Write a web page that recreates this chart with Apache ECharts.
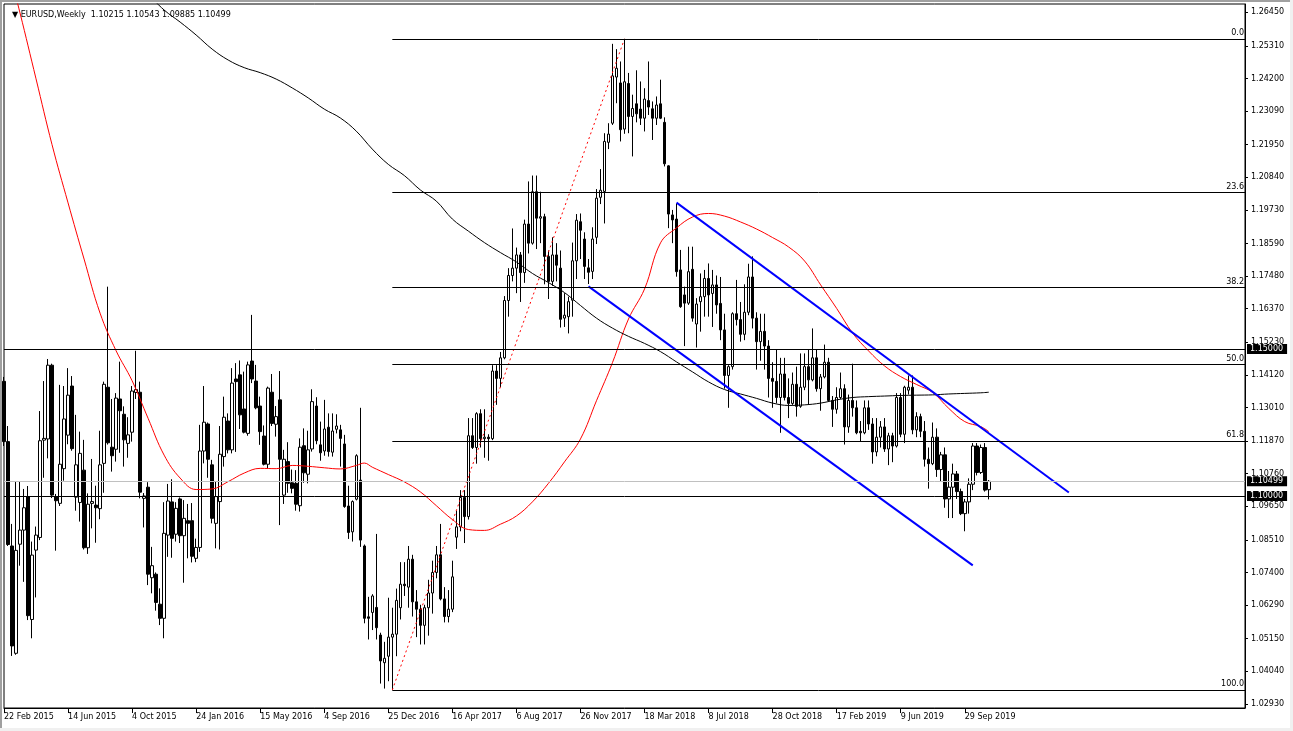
<!DOCTYPE html>
<html>
<head>
<meta charset="utf-8">
<script src="https://cdn.jsdelivr.net/npm/echarts@6/dist/echarts.min.js"></script>
<style>
  html, body { margin: 0; padding: 0; background: #f0f0f0; }
  #frame { position: absolute; left: 0; top: 0; width: 1290px; height: 728px; background: #fff;
           border-left: 2px solid #a0a0a0; border-top: 2px solid #a0a0a0; box-sizing: border-box; }
  #chart { position: absolute; left: 0; top: 0; width: 1293px; height: 731px; }
</style>
</head>
<body>
<div id="frame"></div>
<div id="chart"></div>
<script>
// ---- Weekly candles [open, high, low, close], first bar = week of 22 Feb 2015 ----
const candles2015 = [
  [1.1390,1.1405,1.1170,1.1185],[1.1185,1.1238,1.0830,1.0835],[1.0830,1.0905,1.0456,1.0490],[1.0465,1.1050,1.0460,1.0815],
  [1.0836,1.1051,1.0763,1.0884],[1.0884,1.1024,1.0708,1.0960],[1.0998,1.1034,1.0578,1.0593],[1.0580,1.0845,1.0516,1.0799],
  [1.0816,1.0896,1.0655,1.0867],[1.0859,1.1289,1.0850,1.1188],[1.1190,1.1391,1.1062,1.1196],[1.1194,1.1466,1.1128,1.1445],
  [1.1445,1.1450,1.0993,1.1003],[1.0998,1.1007,1.0814,1.0984],[1.0975,1.1378,1.0966,1.1108],[1.1093,1.1374,1.1052,1.1262],
  [1.1207,1.1435,1.1176,1.1343],[1.1374,1.1408,1.1154,1.1161],[1.0996,1.1276,1.0950,1.1106],[1.0978,1.1219,1.0913,1.1145],
  [1.1088,1.1191,1.0818,1.0824],[1.0824,1.1009,1.0803,1.0972],[1.0975,1.1126,1.0890,1.0981],[1.0969,1.1035,1.0841,1.0960],
  [1.0957,1.1222,1.0921,1.1106],[1.1111,1.1389,1.1011,1.1380],[1.1370,1.1712,1.1175,1.1181],[1.1166,1.1330,1.1083,1.1137],
  [1.1159,1.1350,1.1117,1.1333],[1.1330,1.1457,1.1147,1.1290],[1.1278,1.1305,1.1100,1.1191],[1.1179,1.1268,1.1130,1.1208],
  [1.1217,1.1374,1.1185,1.1357],[1.1352,1.1494,1.1330,1.1362],[1.1353,1.1389,1.0992,1.1013],[1.0992,1.1010,1.0893,1.1000],
  [1.1030,1.1047,1.0697,1.0734],[1.0722,1.0827,1.0669,1.0763],[1.0734,1.0740,1.0610,1.0638],[1.0632,1.0686,1.0561,1.0584],
  [1.0584,1.0979,1.0516,1.0873],[1.0867,1.1041,1.0793,1.0983],[1.0980,1.1057,1.0790,1.0856],[1.0870,1.0979,1.0845,1.0958],
  [1.0990,1.0995,1.0840,1.0865]
];
const candles2016 = [
  [1.0865,1.0986,1.0705,1.0924],[1.0916,1.0973,1.0788,1.0907],[1.0916,1.0976,1.0774,1.0795],[1.0788,1.0855,1.0775,1.0825],
  [1.0825,1.1242,1.0810,1.1153],[1.1153,1.1374,1.1111,1.1251],[1.1245,1.1250,1.1062,1.1125],[1.1106,1.1123,1.0907,1.0924],
  [1.0907,1.1049,1.0822,1.0998],[1.0981,1.1238,1.0818,1.1142],[1.1134,1.1338,1.1100,1.1268],[1.1255,1.1281,1.1145,1.1157],
  [1.1157,1.1435,1.1145,1.1384],[1.1398,1.1452,1.1150,1.1389],[1.1412,1.1461,1.1228,1.1276],[1.1296,1.1423,1.1213,1.1217],
  [1.1213,1.1457,1.1205,1.1446],[1.1459,1.1616,1.1384,1.1398],[1.1391,1.1446,1.1295,1.1300],[1.1306,1.1338,1.1174,1.1219],
  [1.1204,1.1240,1.1104,1.1108],[1.1108,1.1372,1.1094,1.1367],[1.1353,1.1415,1.1238,1.1247],[1.1244,1.1306,1.1202,1.1270],
  [1.1327,1.1425,1.0901,1.1125],[1.1003,1.1157,1.0973,1.1125],[1.1117,1.1183,1.1011,1.1043],[1.1045,1.1090,1.1009,1.1026],
  [1.1043,1.1088,1.0950,1.0972],[1.0967,1.1196,1.0947,1.1166],[1.1171,1.1230,1.1045,1.1079],[1.1074,1.1222,1.1043,1.1157],
  [1.1160,1.1363,1.1151,1.1321],[1.1306,1.1336,1.1176,1.1188],[1.1174,1.1253,1.1120,1.1147],[1.1153,1.1327,1.1137,1.1228],
  [1.1234,1.1281,1.1134,1.1151],[1.1149,1.1281,1.1134,1.1221],[1.1227,1.1278,1.1213,1.1238],[1.1225,1.1242,1.1100,1.1196],
  [1.1177,1.1208,1.0960,1.0964],[1.0966,1.1035,1.0854,1.0876],[1.0878,1.0985,1.0845,1.0981],[1.0989,1.1142,1.0985,1.1137],
  [1.1054,1.1300,1.0827,1.0850],[1.0830,1.0835,1.0567,1.0584],[1.0589,1.0657,1.0512,1.0584],[1.0604,1.0666,1.0544,1.0660],
  [1.0621,1.0871,1.0512,1.0552],[1.0527,1.0535,1.0362,1.0439],[1.0433,1.0504,1.0345,1.0448],[1.0455,1.0654,1.0370,1.0520]
];
const candles2017 = [
  [1.0520,1.0620,1.0340,1.0530],[1.0530,1.0685,1.0455,1.0645],[1.0620,1.0775,1.0580,1.0700],[1.0700,1.0775,1.0660,1.0695],
  [1.0690,1.0830,1.0620,1.0785],[1.0785,1.0800,1.0590,1.0640],[1.0640,1.0680,1.0520,1.0615],[1.0615,1.0630,1.0495,1.0560],
  [1.0560,1.0630,1.0495,1.0620],[1.0620,1.0715,1.0525,1.0670],[1.0670,1.0780,1.0600,1.0740],[1.0740,1.0830,1.0720,1.0800],
  [1.0800,1.0905,1.0645,1.0650],[1.0650,1.0690,1.0570,1.0590],[1.0590,1.0680,1.0570,1.0615],[1.0615,1.0780,1.0605,1.0725],
  [1.0860,1.0950,1.0820,1.0895],[1.0895,1.1020,1.0880,1.0995],[1.0995,1.1020,1.0840,1.0930],[1.0930,1.1265,1.0920,1.1205],
  [1.1205,1.1265,1.1160,1.1165],[1.1165,1.1285,1.1110,1.1280],[1.1280,1.1295,1.1165,1.1195],[1.1195,1.1295,1.1130,1.1200],
  [1.1200,1.1210,1.1120,1.1195],[1.1195,1.1445,1.1190,1.1425],[1.1425,1.1445,1.1310,1.1400],[1.1400,1.1490,1.1370,1.1470],
  [1.1470,1.1680,1.1465,1.1665],[1.1665,1.1775,1.1610,1.1750],[1.1750,1.1910,1.1730,1.1775],[1.1775,1.1845,1.1690,1.1820],
  [1.1820,1.1830,1.1660,1.1760],[1.1760,1.1940,1.1725,1.1925],[1.1925,1.2070,1.1825,1.1860],[1.1860,1.2090,1.1855,1.2035],
  [1.2035,1.2090,1.1840,1.1945],[1.1945,1.2035,1.1860,1.1950],[1.1950,1.1960,1.1720,1.1815],[1.1815,1.1835,1.1670,1.1730],
  [1.1730,1.1880,1.1715,1.1820],[1.1820,1.1860,1.1730,1.1785],[1.1775,1.1835,1.1573,1.1601],[1.1605,1.1690,1.1575,1.1615],
  [1.1610,1.1678,1.1553,1.1661],[1.1666,1.1862,1.1610,1.1800],[1.1800,1.1959,1.1738,1.1938],[1.1933,1.1961,1.1806,1.1904],
  [1.1874,1.1897,1.1738,1.1781],[1.1776,1.1806,1.1721,1.1761],[1.1764,1.1914,1.1738,1.1874],[1.1880,1.2044,1.1857,1.2013]
];
const candles2018 = [
  [1.2016,1.2112,1.1993,1.2040],[1.2036,1.2234,1.1927,1.2206],[1.2203,1.2268,1.2180,1.2231],[1.2268,1.2538,1.2262,1.2429],
  [1.2425,1.2520,1.2336,1.2455],[1.2405,1.2478,1.2206,1.2246],[1.2248,1.2555,1.2232,1.2409],[1.2403,1.2439,1.2234,1.2291],
  [1.2291,1.2365,1.2155,1.2318],[1.2334,1.2448,1.2271,1.2300],[1.2316,1.2410,1.2262,1.2285],[1.2285,1.2387,1.2240,1.2350],
  [1.2345,1.2478,1.2296,1.2323],[1.2317,1.2342,1.2211,1.2285],[1.2285,1.2359,1.2262,1.2330],[1.2334,1.2416,1.2282,1.2285],
  [1.2271,1.2288,1.2121,1.2130],[1.2123,1.2125,1.1911,1.1959],[1.1956,1.1973,1.1860,1.1939],[1.1942,1.1995,1.1746,1.1763],
  [1.1769,1.1837,1.1640,1.1644],[1.1684,1.1712,1.1510,1.1656],[1.1656,1.1848,1.1650,1.1763],[1.1771,1.1848,1.1593,1.1605],
  [1.1585,1.1673,1.1505,1.1653],[1.1661,1.1757,1.1559,1.1678],[1.1678,1.1769,1.1610,1.1740],[1.1740,1.1791,1.1610,1.1684],
  [1.1689,1.1769,1.1575,1.1718],[1.1718,1.1750,1.1620,1.1650],[1.1655,1.1745,1.1530,1.1565],[1.1565,1.1620,1.1365,1.1410],
  [1.1410,1.1445,1.1300,1.1440],[1.1440,1.1625,1.1430,1.1620],[1.1620,1.1735,1.1580,1.1600],[1.1600,1.1660,1.1525,1.1550],
  [1.1550,1.1720,1.1530,1.1625],[1.1625,1.1790,1.1615,1.1745],[1.1745,1.1815,1.1570,1.1605],[1.1605,1.1625,1.1430,1.1525],
  [1.1525,1.1620,1.1460,1.1560],[1.1560,1.1620,1.1430,1.1510],[1.1510,1.1530,1.1335,1.1400],[1.1400,1.1455,1.1300,1.1390],
  [1.1390,1.1500,1.1315,1.1335],[1.1335,1.1470,1.1215,1.1415],[1.1415,1.1470,1.1325,1.1335],[1.1335,1.1400,1.1265,1.1315],
  [1.1315,1.1420,1.1310,1.1380],[1.1380,1.1440,1.1270,1.1305],[1.1305,1.1485,1.1300,1.1370],[1.1370,1.1485,1.1360,1.1440]
];
const candles2019 = [
  [1.1440,1.1500,1.1310,1.1395],[1.1395,1.1570,1.1390,1.1470],[1.1470,1.1500,1.1355,1.1365],[1.1365,1.1415,1.1290,1.1405],
  [1.1405,1.1515,1.1400,1.1455],[1.1455,1.1470,1.1320,1.1325],[1.1325,1.1340,1.1235,1.1295],[1.1295,1.1370,1.1280,1.1335],
  [1.1335,1.1420,1.1330,1.1365],[1.1365,1.1380,1.1175,1.1235],[1.1235,1.1345,1.1215,1.1325],[1.1325,1.1450,1.1270,1.1300],
  [1.1300,1.1325,1.1210,1.1215],[1.1220,1.1255,1.1185,1.1215],[1.1215,1.1325,1.1210,1.1300],[1.1300,1.1325,1.1225,1.1245],
  [1.1245,1.1265,1.1110,1.1150],[1.1150,1.1265,1.1135,1.1200],[1.1200,1.1255,1.1165,1.1235],[1.1235,1.1265,1.1150,1.1160],
  [1.1160,1.1215,1.1105,1.1205],[1.1205,1.1215,1.1115,1.1170],[1.1170,1.1350,1.1165,1.1335],[1.1335,1.1350,1.1200,1.1210],
  [1.1210,1.1375,1.1180,1.1370],[1.1360,1.1410,1.1345,1.1370],[1.1370,1.1410,1.1210,1.1225],[1.1225,1.1285,1.1200,1.1270],
  [1.1270,1.1280,1.1200,1.1220],[1.1220,1.1255,1.1100,1.1125],[1.1125,1.1165,1.1025,1.1110],[1.1110,1.1250,1.1105,1.1200],
  [1.1200,1.1230,1.1065,1.1090],[1.1090,1.1150,1.1050,1.1140],[1.1140,1.1165,1.0960,1.0990],[1.0990,1.1085,1.0925,1.1030],
  [1.1030,1.1110,1.0925,1.1075],[1.1075,1.1085,1.0990,1.1015],[1.1015,1.1025,1.0935,1.0940],[1.0940,1.0990,1.0880,1.0980],
  [1.0980,1.1060,1.0940,1.1040],[1.1040,1.1180,1.1020,1.1170],[1.1170,1.1180,1.1070,1.1080],[1.1080,1.1175,1.1075,1.1165],
  [1.1165,1.1180,1.1015,1.1020],[1.10215,1.10543,1.09885,1.10499]
];

// ---- Moving averages: [bar index, value] ----
const redMA = [[0,1.2856],[4,1.2643],[8,1.2419],[12,1.2195],[16,1.1997],[20,1.1806],[24,1.1622],[28,1.1494],[32,1.1392],
  [36,1.1264],[40,1.1139],[44,1.1061],[48,1.1022],[52,1.1024],[56,1.1049],[60,1.1078],[64,1.1094],[68,1.1093],[72,1.1104],
  [76,1.1101],[80,1.1096],[84,1.1092],[88,1.1104],[90,1.1112],[92,1.1098],[96,1.1073],[100,1.1048],[104,1.1014],[108,1.0967],
  [112,1.0920],[116,1.0886],[120,1.0883],[124,1.0904],[128,1.0932],[132,1.0980],[136,1.1043],[140,1.1116],[144,1.1194],
  [148,1.1324],[152,1.1454],[156,1.1602],[160,1.1704],[164,1.1861],[168,1.1912],[172,1.1949],[176,1.1961],[180,1.1952],
  [184,1.1932],[188,1.1908],[192,1.1879],[196,1.1847],[200,1.1799],[204,1.1718],[208,1.1638],[212,1.1554],[216,1.1493],
  [220,1.1442],[224,1.1406],[228,1.1379],[232,1.1352],[236,1.1298],[240,1.1253],[244,1.1236],[246,1.1219]];
const blackMA = [[36,1.2707],[40,1.2653],[44,1.2612],[48,1.2568],[52,1.2520],[56,1.2483],[60,1.2457],[64,1.2440],[68,1.2418],
  [72,1.2388],[76,1.2354],[80,1.2316],[84,1.2286],[88,1.2241],[92,1.2180],[96,1.2128],[100,1.2090],[104,1.2041],[108,1.2003],
  [112,1.1942],[116,1.1901],[120,1.1862],[124,1.1828],[128,1.1796],[132,1.1757],[136,1.1726],[140,1.1692],[144,1.1648],
  [148,1.1605],[152,1.1571],[156,1.1543],[160,1.1519],[164,1.1491],[168,1.1456],[172,1.1422],[176,1.1388],[180,1.1362],
  [184,1.1347],[188,1.1332],[192,1.1316],[196,1.1308],[200,1.1310],[204,1.1316],[208,1.1327],[212,1.1335],[216,1.1338],
  [220,1.1340],[224,1.1342],[228,1.1343],[232,1.1344],[236,1.1347],[240,1.1349],[244,1.1351],[246,1.1353]];

// ---- Drawn objects ----
const upperChannel = [[168,1.1998],[266,1.1012]];
const lowerChannel = [[146,1.1713],[242,1.0764]];
const fibLow = [97, 1.0340];
const fibHigh = [155, 1.2555];
const fibLevels = [0, 23.6, 38.2, 50, 61.8, 100];
const levelLines = [1.15, 1.10];
const lastPrice = 1.10499;

// ---- Axes ----
const slotCount = 311;
const xTickLabels = ['22 Feb 2015','14 Jun 2015','4 Oct 2015','24 Jan 2016','15 May 2016','4 Sep 2016','25 Dec 2016',
  '16 Apr 2017','6 Aug 2017','26 Nov 2017','18 Mar 2018','8 Jul 2018','28 Oct 2018','17 Feb 2019','9 Jun 2019','29 Sep 2019'];
const xTickStep = 16;
const yTickValues = [1.2645,1.2531,1.2420,1.2309,1.2195,1.2084,1.1973,1.1859,1.1748,1.1637,1.1523,1.1412,1.1301,
  1.1187,1.1076,1.0965,1.0851,1.0740,1.0629,1.0515,1.0404,1.0293];

const FONT = '"DejaVu Sans", sans-serif';
const allCandles = [].concat(candles2015, candles2016, candles2017, candles2018, candles2019);
const candleData = allCandles.map(d => [d[0], d[3], d[2], d[1]]);
const categories = Array.from({length: slotCount}, (_, i) => String(i));
const isTick = (i) => i % xTickStep === 0 && (i / xTickStep) < xTickLabels.length;
const lastSlot = slotCount - 1;

const boxLabel = (txt) => ({
  show: true, position: 'end', distance: 2, formatter: txt,
  backgroundColor: '#000', color: '#fff', fontFamily: FONT, fontSize: 8,
  padding: [1, 4, 1, 3]
});
const hLine = (price, color, txt) => [
  { coord: [0, price], lineStyle: { color: color, width: 1, type: 'solid' }, label: boxLabel(txt) },
  { coord: [lastSlot, price] }
];

const fibRange = fibHigh[1] - fibLow[1];
const fibLines = fibLevels.map(lv => {
  const p = fibHigh[1] - fibRange * lv / 100;
  return [
    { coord: [fibLow[0], p], lineStyle: { color: '#000', width: 1, type: 'solid' },
      label: { show: true, position: 'insideEndTop', formatter: lv.toFixed(1), color: '#000',
               fontFamily: FONT, fontSize: 8, distance: [1, 2] } },
    { coord: [lastSlot, p] }
  ];
});

const chart = echarts.init(document.getElementById('chart'), null, { renderer: 'canvas' });
chart.setOption({
  animation: false,
  backgroundColor: 'transparent',
  title: {
    text: '\u25BC EURUSD,Weekly  1.10215 1.10543 1.09885 1.10499',
    left: 7, top: 6,
    textStyle: { fontFamily: FONT, fontSize: 8, fontWeight: 'normal', color: '#000' }
  },
  grid: { left: 4, top: 4, width: 1241, height: 704, show: true, borderColor: '#000', borderWidth: 1,
          backgroundColor: 'transparent' },
  xAxis: {
    type: 'category', data: categories, boundaryGap: false,
    axisLine: { show: true, lineStyle: { color: '#000', width: 1 } },
    axisTick: { show: true, interval: (i) => isTick(i), length: 5, lineStyle: { color: '#000' } },
    axisLabel: { show: true, interval: (i) => isTick(i), formatter: (v, i) => xTickLabels[i / xTickStep],
                 align: 'left', margin: 5, color: '#000', fontFamily: FONT, fontSize: 8 },
    splitLine: { show: false }
  },
  yAxis: {
    type: 'value', position: 'right', min: 1.02789, max: 1.26735, scale: true,
    axisLine: { show: true, onZero: false, lineStyle: { color: '#000', width: 1 } },
    axisTick: { show: true, customValues: yTickValues, length: 3, lineStyle: { color: '#000' } },
    axisLabel: { show: true, customValues: yTickValues, formatter: (v) => v.toFixed(5), margin: 6,
                 color: '#000', fontFamily: FONT, fontSize: 8 },
    splitLine: { show: false }
  },
  series: [
    {
      type: 'candlestick', name: 'EURUSD', data: candleData, barWidth: 3, z: 2,
      itemStyle: { color: '#fff', color0: '#000', borderColor: '#000', borderColor0: '#000', borderWidth: 1 },
      markLine: {
        silent: true, symbol: ['none', 'none'], animation: false, precision: 5,
        data: [
          hLine(levelLines[0], '#000', '1.15000'),
          hLine(lastPrice, '#c0c0c0', '1.10499'),
          hLine(levelLines[1], '#000', '1.10000')
        ].concat(fibLines)
      }
    },
    { type: 'line', name: 'MA50', data: redMA, smooth: 0.4, showSymbol: false, symbol: 'none', z: 3,
      lineStyle: { color: '#ff0000', width: 1 }, clip: true },
    { type: 'line', name: 'MA200', data: blackMA, smooth: 0.4, showSymbol: false, symbol: 'none', z: 3,
      lineStyle: { color: '#000', width: 1 }, clip: true },
    { type: 'line', name: 'fibTrend', data: [fibLow, fibHigh], showSymbol: false, symbol: 'none', z: 3,
      lineStyle: { color: '#ff0000', width: 1, type: [2, 3] } },
    { type: 'line', name: 'upperChannel', data: upperChannel, showSymbol: false, symbol: 'none', z: 4,
      lineStyle: { color: '#0000ff', width: 2 } },
    { type: 'line', name: 'lowerChannel', data: lowerChannel, showSymbol: false, symbol: 'none', z: 4,
      lineStyle: { color: '#0000ff', width: 2 } }
  ]
});
</script>
</body>
</html>
